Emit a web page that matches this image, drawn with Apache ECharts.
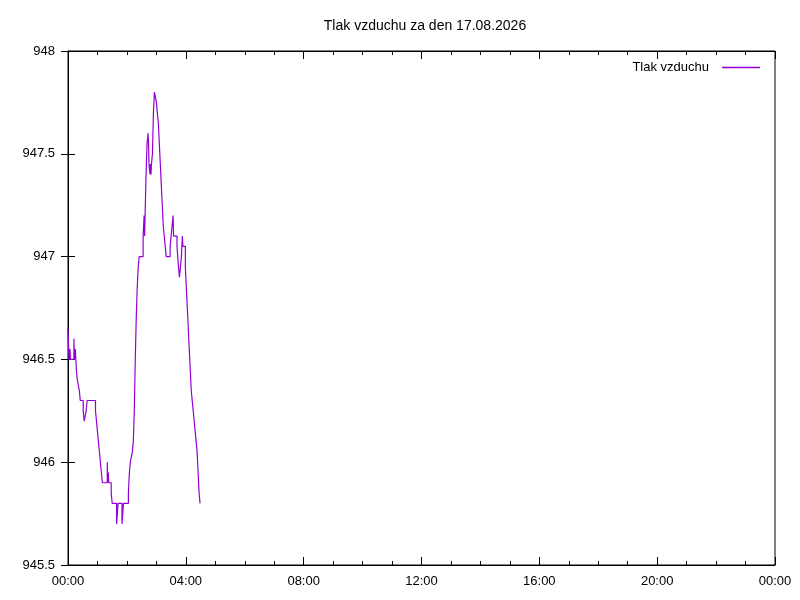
<!DOCTYPE html>
<html>
<head>
<meta charset="utf-8">
<script src="https://cdn.jsdelivr.net/npm/echarts@6/dist/echarts.min.js"></script>
<style>
html,body{margin:0;padding:0;background:#fff;}
#c{width:800px;height:600px;}
</style>
</head>
<body>
<div id="c"></div>
<script>
// Sample times (HH:MM) and pressure values (hPa)
var times = [
  "00:00","00:02","00:04","00:05","00:12","00:13","00:15","00:16","00:17","00:19",
  "00:23","00:25","00:31","00:33","00:37","00:39","00:56","00:58","01:00","01:02",
  "01:04","01:06","01:08","01:10","01:20","01:21","01:22","01:23","01:28","01:30",
  "01:39","01:42","01:50","01:53","02:03","02:05","02:07","02:11","02:13","02:15",
  "02:17","02:19","02:21","02:23","02:25","02:33","02:35","02:36","02:37","02:39",
  "02:41","02:43","02:44","02:45","02:47","02:48","02:49","02:50","02:52","02:54",
  "02:56","03:00","03:02","03:04","03:06","03:08","03:10","03:12","03:14","03:16",
  "03:18","03:20","03:28","03:30","03:32","03:34","03:35","03:42","03:45","03:47",
  "03:51","03:53","03:54","03:59","04:01","04:03","04:05","04:07","04:09","04:11",
  "04:13","04:15","04:17","04:19","04:21","04:23","04:25","04:27","04:29"
];
var pressure = [
  946.65,946.5,946.55,946.5,946.6,946.5,946.55,946.5,946.45,946.4,
  946.35,946.3,946.25,946.2,946.25,946.3,946.25,946.2,946.15,946.1,
  946.05,946.0,945.95,945.9,946.0,945.9,945.95,945.9,945.85,945.8,
  945.7,945.8,945.7,945.8,945.85,945.95,946.0,946.05,946.1,946.25,
  946.5,946.7,946.85,946.95,947.0,947.1,947.2,947.1,947.2,947.4,
  947.55,947.6,947.55,947.45,947.4,947.45,947.4,947.45,947.5,947.7,
  947.8,947.75,947.7,947.65,947.55,947.45,947.35,947.25,947.15,947.1,
  947.05,947.0,947.05,947.1,947.15,947.2,947.1,947.05,946.95,946.9,
  947.0,947.1,947.05,946.95,946.85,946.75,946.65,946.55,946.45,946.35,
  946.3,946.25,946.2,946.15,946.1,946.05,945.95,945.85,945.8
];
var xTickLabels = ["00:00","04:00","08:00","12:00","16:00","20:00","00:00"];
var yTickLabels = ["945.5","946","946.5","947","947.5","948"];
var seriesName = "Tlak vzduchu";
var titleText = "Tlak vzduchu za den 17.08.2026";

function toMin(s){var p=s.split(":");return (+p[0])*60+(+p[1]);}
var data = times.map(function(t,i){return [toMin(t), pressure[i]];});

var font = "Liberation Sans, Arial, sans-serif";
var chart = echarts.init(document.getElementById('c'), null, {renderer:'canvas'});
var axisLine = {show:true, lineStyle:{color:'#000', width:1}};
chart.setOption({
  animation:false,
  backgroundColor:'#fff',
  title:{text:titleText, left:425, top:19, textAlign:'center', padding:0,
    textStyle:{fontFamily:font, fontSize:14, fontWeight:'normal', color:'#000'}},
  legend:{right:40, top:61, padding:0, itemWidth:38, itemHeight:1.5, itemGap:10, align:'right',
    icon:'rect',
    textStyle:{fontFamily:font, fontSize:13, color:'#000', padding:[0,8,0,0]},
    data:[{name:seriesName, itemStyle:{color:'#9400D3'}}]},
  grid:{left:68, right:25, top:51, bottom:35, show:true, borderColor:'#000', borderWidth:1, backgroundColor:'transparent'},
  xAxis:[{
    type:'value', min:0, max:1440, interval:240, position:'bottom',
    axisLine:axisLine,
    axisTick:{show:true, inside:true, length:8, lineStyle:{color:'#000'}},
    minorTick:{show:true, splitNumber:4, length:4, lineStyle:{color:'#000'}},
    splitLine:{show:false},
    axisLabel:{margin:10, fontFamily:font, fontSize:13, color:'#000',
      formatter:function(v){return xTickLabels[Math.round(v/240)];}}
  },{
    type:'value', min:0, max:1440, interval:240, position:'top',
    axisLine:axisLine,
    axisTick:{show:true, inside:true, length:8, lineStyle:{color:'#000'}},
    minorTick:{show:true, splitNumber:4, length:4, lineStyle:{color:'#000'}},
    splitLine:{show:false}, axisLabel:{show:false}
  }],
  yAxis:[{
    type:'value', min:945.5, max:948, interval:0.5, position:'left',
    axisLine:axisLine,
    axisTick:{show:true, inside:true, length:7, lineStyle:{color:'#000'}},
    splitLine:{show:false},
    axisLabel:{margin:13, fontFamily:font, fontSize:13, color:'#000',
      formatter:function(v){return yTickLabels[Math.round((v-945.5)/0.5)];}}
  },{
    type:'value', min:945.5, max:948, interval:0.5, position:'right',
    axisLine:axisLine,
    axisTick:{show:true, inside:true, length:7, lineStyle:{color:'#000'}},
    splitLine:{show:false}, axisLabel:{show:false}
  }],
  series:[{
    name:seriesName, type:'line', step:'end', data:data,
    xAxisIndex:0, yAxisIndex:0,
    showSymbol:false, symbol:'none',
    lineStyle:{color:'#9400D3', width:1.2},
    itemStyle:{color:'#9400D3'}
  }]
});
</script>
</body>
</html>
